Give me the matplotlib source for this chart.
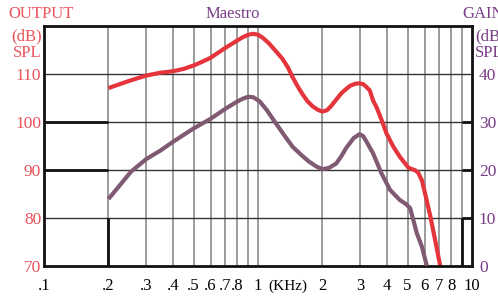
import numpy as np
import matplotlib
matplotlib.use("Agg")
import matplotlib.pyplot as plt

plt.rcParams["font.family"] = ["Liberation Serif", "DejaVu Serif"]

RED = "#e5353c"
RED_TXT = "#e8525a"
MAUVE = "#7f5a72"
PURPLE_TXT = "#7a3d87"

# OUTPUT curve (dB SPL, left axis)
out_freq = [0.2, 0.25, 0.3, 0.35, 0.4, 0.45, 0.5, 0.55, 0.6, 0.7, 0.8, 0.85, 0.9,
            0.95, 1.0, 1.05, 1.12, 1.2, 1.3, 1.38, 1.45, 1.53, 1.61, 1.7, 1.8,
            1.9, 2.0, 2.1, 2.2, 2.32, 2.45, 2.58, 2.7, 2.85, 2.98, 3.1, 3.2,
            3.33, 3.45, 3.58, 3.71, 3.85, 3.98, 4.29, 4.6, 5.05, 5.42, 5.6,
            5.83, 6.1, 6.38, 6.75, 7.1]
out_db = [107.0, 108.5, 109.6, 110.2, 110.5, 111.0, 111.7, 112.5, 113.3, 115.3,
          116.9, 117.6, 118.1, 118.3, 118.1, 117.5, 116.4, 114.9, 113.1, 111.3,
          109.3, 107.4, 105.8, 104.3, 103.2, 102.5, 102.1, 102.4, 103.3, 104.6,
          105.9, 106.8, 107.5, 107.9, 108.0, 107.8, 107.3, 106.5, 104.4, 103.0,
          101.3, 99.4, 97.6, 94.8, 92.7, 90.4, 89.9, 89.4, 87.8, 84.2, 80.4,
          75.0, 70.0]

# GAIN curve (dB, right axis)
gain_freq = [0.2, 0.255, 0.3, 0.35, 0.4, 0.5, 0.6, 0.71, 0.8, 0.85, 0.9, 0.95,
             1.02, 1.1, 1.21, 1.33, 1.45, 1.6, 1.73, 1.87, 2.0, 2.15, 2.32,
             2.45, 2.58, 2.8, 2.98, 3.1, 3.2, 3.45, 3.77, 4.14, 4.6, 4.9, 5.14,
             5.3, 5.52, 5.83, 6.15]
gain_db = [13.9, 19.6, 22.2, 24.0, 25.8, 28.6, 30.6, 32.8, 34.2, 34.8, 35.2, 35.1,
           34.2, 32.4, 29.7, 27.1, 24.8, 23.0, 21.7, 20.7, 20.1, 20.4, 21.3,
           22.8, 24.5, 26.6, 27.4, 27.0, 26.0, 23.4, 19.3, 15.8, 13.7, 12.9,
           12.0, 9.8, 6.8, 4.0, 0.0]

grid_freq = [0.2, 0.3, 0.4, 0.5, 0.6, 0.7, 0.8, 0.9, 1, 2, 3, 4, 5, 6, 7, 8, 9]
grid_lbl = [".2", ".3", ".4", ".5", ".6", ".7", ".8", "", "1", "2", "3", "4",
            "5", "6", "7", "8", ""]
left_ticks = [70, 80, 90, 100, 110]
right_ticks = [0, 10, 20, 30, 40]

fig = plt.figure(figsize=(4.98, 2.98), dpi=100)
ax = fig.add_axes([0.0884, 0.108, 0.8594, 0.806])
ax.set_xscale("log")
ax.set_xlim(0.1, 10)
ax.set_ylim(70, 120)

ax.set_xticks([0.1] + grid_freq + [10])
ax.set_xticklabels([".1"] + grid_lbl + ["10"], fontsize=12)
ax.xaxis.set_minor_locator(matplotlib.ticker.NullLocator())
ax.set_yticks(left_ticks)
ax.set_yticklabels([str(t) for t in left_ticks], color=RED_TXT, fontsize=12.5)
ax.tick_params(axis="both", length=0)
ax.tick_params(axis="y", pad=2)
ax.tick_params(axis="x", pad=9)

for f in grid_freq:
    ax.axvline(f, color="#8a8a8a", lw=1.2, zorder=1)
for v in left_ticks[1:]:
    ax.axhline(v, color="#333333", lw=1.0, zorder=1)

# heavier black grid segments
ax.hlines([90, 100], 0.1, 0.2, color="#111111", lw=2, zorder=2)
ax.vlines(0.2, 70, 80, color="#111111", lw=2, zorder=2)
ax.hlines([80, 90, 100], 9, 10, color="#111111", lw=2, zorder=2)
ax.vlines(9, 70, 80, color="#111111", lw=2, zorder=2)

ax.plot(out_freq, out_db, color=RED, lw=3, solid_capstyle="butt",
        solid_joinstyle="round", zorder=4)

for s in ax.spines.values():
    s.set_linewidth(2.0)
    s.set_color("#111111")
    s.set_zorder(5)

ax2 = ax.twinx()
ax2.set_ylim(0, 50)
ax2.set_yticks(right_ticks)
ax2.set_yticklabels([str(t) for t in right_ticks], color=PURPLE_TXT, fontsize=12.5)
ax2.tick_params(axis="y", length=0, pad=5)
for s in ax2.spines.values():
    s.set_visible(False)
ax2.plot(gain_freq, gain_db, color=MAUVE, lw=3, solid_capstyle="butt",
         solid_joinstyle="round", zorder=3)

ax.text(1.38, -0.087, "(KHz)", transform=ax.get_xaxis_transform(),
        ha="center", va="center", fontsize=11)

fig.text(8 / 498, 1 - 14 / 298, "OUTPUT", color=RED_TXT, fontsize=12, va="center", ha="left")
fig.text(42 / 498, 1 - 36 / 298, "(dB)", color=RED_TXT, fontsize=12, va="center", ha="right")
fig.text(42 / 498, 1 - 53 / 298, "SPL", color=RED_TXT, fontsize=12, va="center", ha="right")
fig.text(233 / 498, 1 - 14 / 298, "Maestro", color=PURPLE_TXT, fontsize=12, va="center", ha="center")
fig.text(462 / 498, 1 - 14 / 298, "GAIN", color=PURPLE_TXT, fontsize=12, va="center", ha="left")
fig.text(475 / 498, 1 - 36 / 298, "(dB)", color=PURPLE_TXT, fontsize=12, va="center", ha="left")
fig.text(475 / 498, 1 - 53 / 298, "SPL", color=PURPLE_TXT, fontsize=12, va="center", ha="left")

fig.savefig("out.png", dpi=100)
